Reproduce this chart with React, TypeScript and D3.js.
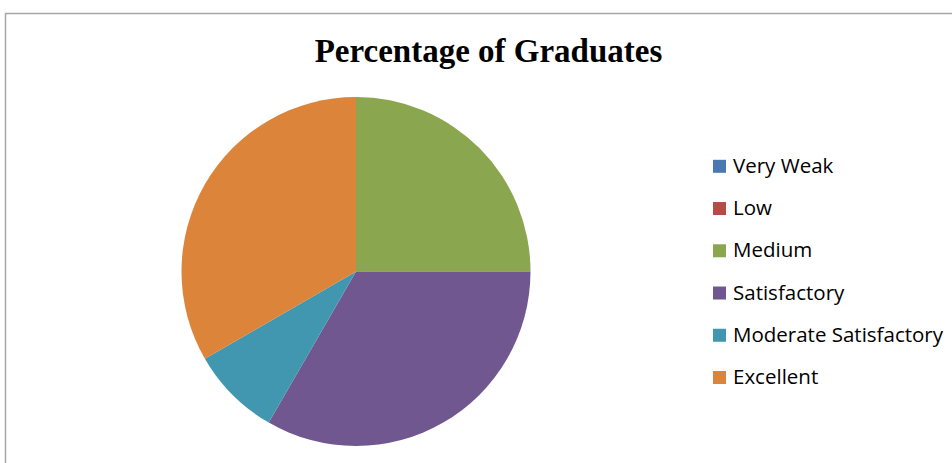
import React from "react";
import * as d3 from "d3";

const categories = ["Very Weak", "Low", "Medium", "Satisfactory", "Moderate Satisfactory", "Excellent"];
const values = [0, 0, 3, 4, 1, 4];
const colors = ["#4a78b0", "#b84a46", "#8aa64f", "#70578f", "#4297b0", "#db843a"];
const title = "Percentage of Graduates";

export default function App() {
  const W = 952, H = 463;
  const cx = 356, cy = 271.5, r = 174.5;
  const pie = d3.pie<number>().sort(null).value((d) => d)(values);
  const arc = d3.arc<d3.PieArcDatum<number>>().innerRadius(0).outerRadius(r);
  const legendY = d3.scalePoint<string>().domain(categories).range([166.3, 377.5]);
  return (
    <svg width={W} height={H} style={{ position: "fixed", left: 0, top: 0, background: "#fff" }}>
      <rect x={0} y={0} width={W} height={H} fill="#fff" />
      <rect x={5.5} y={13.5} width={W + 20} height={H + 20} fill="none" stroke="#a6a6a6" strokeWidth={1.5} />
      <text x={488.5} y={62} textAnchor="middle" fontFamily="'Liberation Serif', serif" fontWeight="bold" fontSize={33} fill="#000">
        {title}
      </text>
      <g transform={`translate(${cx},${cy})`}>
        {pie.map((p, i) => (
          <path key={i} d={arc(p) || ""} fill={colors[i]} />
        ))}
      </g>
      {categories.map((c, i) => (
        <g key={c} transform={`translate(713,${legendY(c)})`}>
          <rect x={0} y={-6.5} width={13} height={13} fill={colors[i]} />
          <text x={20} y={6.5} fontFamily="'Open Sans', sans-serif" fontSize={20.5} fill="#000">
            {c}
          </text>
        </g>
      ))}
    </svg>
  );
}
